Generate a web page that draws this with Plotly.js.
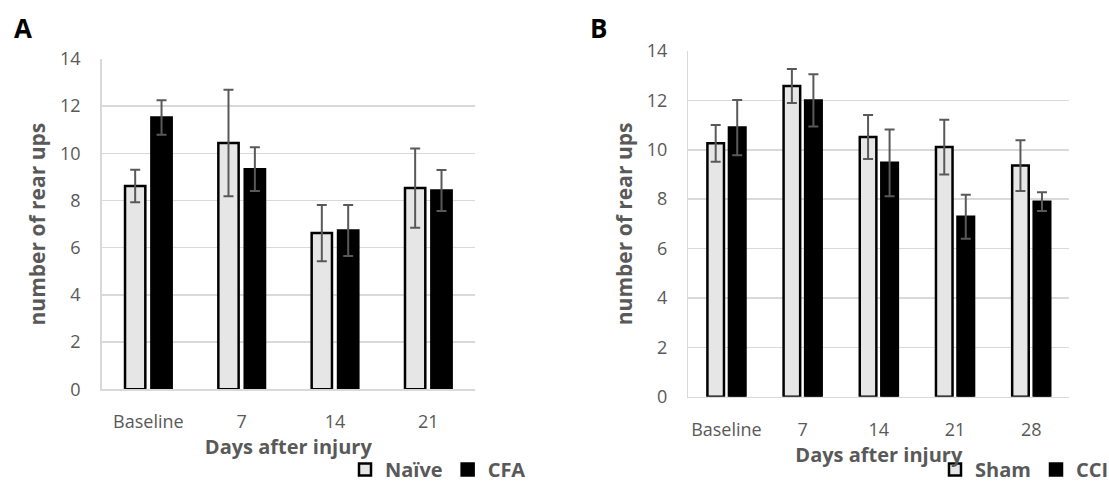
<!DOCTYPE html>
<html>
<head>
<meta charset="utf-8">
<script src="https://cdn.plot.ly/plotly-3.0.1.min.js"></script>
<style>html,body{margin:0;padding:0;background:#fff;}#chart{width:1109px;height:490px;}</style>
</head>
<body>
<div id="chart"></div>
<script>
// Panel A data
const categoriesA = ['Baseline', '7', '14', '21'];
const naive = [8.62, 10.44, 6.62, 8.53];
const naiveErr = [0.69, 2.26, 1.19, 1.68];
const cfa = [11.52, 9.33, 6.73, 8.43];
const cfaErr = [0.73, 0.93, 1.08, 0.87];

// Panel B data
const categoriesB = ['Baseline', '7', '14', '21', '28'];
const sham = [10.26, 12.58, 10.52, 10.11, 9.36];
const shamErr = [0.74, 0.69, 0.89, 1.11, 1.03];
const cci = [10.90, 12.00, 9.47, 7.29, 7.90];
const cciErr = [1.12, 1.06, 1.35, 0.89, 0.38];

const yTicks = [0, 2, 4, 6, 8, 10, 12, 14];

const FONT = 'Open Sans, Noto Sans, sans-serif';
const GRAY = '#595959';
const GRID = '#d9d9d9';
const LIGHT = '#e6e6e6';

function errBar(arr) {
  return {type: 'data', array: arr, visible: true, color: GRAY, thickness: 2, width: 5};
}

const traces = [
  {type: 'bar', name: 'Naïve', x: categoriesA, y: naive, error_y: errBar(naiveErr),
   marker: {color: LIGHT, line: {color: '#000', width: 2.5}}, xaxis: 'x', yaxis: 'y', legend: 'legend'},
  {type: 'bar', name: 'CFA', x: categoriesA, y: cfa, error_y: errBar(cfaErr),
   marker: {color: '#000', line: {color: '#000', width: 2.5}}, xaxis: 'x', yaxis: 'y', legend: 'legend'},
  {type: 'bar', name: 'Sham', x: categoriesB, y: sham, error_y: errBar(shamErr),
   marker: {color: LIGHT, line: {color: '#000', width: 2.5}}, xaxis: 'x2', yaxis: 'y2', legend: 'legend2'},
  {type: 'bar', name: 'CCI', x: categoriesB, y: cci, error_y: errBar(cciErr),
   marker: {color: '#000', line: {color: '#000', width: 2.5}}, xaxis: 'x2', yaxis: 'y2', legend: 'legend2'}
];

function xAxis(domain, anchor) {
  return {
    domain: domain, anchor: anchor, type: 'category',
    tickfont: {family: FONT, size: 18, color: GRAY},
    ticks: 'outside', ticklen: 16, tickcolor: 'rgba(0,0,0,0)',
    showline: true, linecolor: GRID, linewidth: 1.5, showgrid: false,
    title: {text: 'Days after injury', font: {family: FONT, size: 20, color: GRAY, weight: 'bold'}, standoff: 1},
    fixedrange: true
  };
}
function yAxis(domain, anchor) {
  return {
    domain: domain, anchor: anchor, range: [0, 14], tickvals: yTicks, ticktext: yTicks.map(String),
    tickfont: {family: FONT, size: 18, color: GRAY},
    ticks: 'outside', ticklen: 16, tickcolor: 'rgba(0,0,0,0)',
    showgrid: true, gridcolor: GRID, gridwidth: 1.5, zeroline: false,
    showline: true, linecolor: GRID, linewidth: 1.5,
    title: {text: 'number of rear ups', font: {family: FONT, size: 21, color: GRAY, weight: 'bold'}, standoff: 8},
    fixedrange: true
  };
}

const legendFont = {family: FONT, size: 20, color: GRAY, weight: 'bold'};

const layout = {
  width: 1109, height: 490,
  margin: {l: 0, r: 0, t: 0, b: 0, autoexpand: false},
  paper_bgcolor: '#fff', plot_bgcolor: '#fff',
  barmode: 'group', bargap: 0.435, bargroupgap: 0.23,
  showlegend: true,
  xaxis: xAxis([0.0917, 0.4283], 'y'),
  yaxis: yAxis([0.2055, 0.8796], 'x'),
  xaxis2: xAxis([0.6207, 0.9642], 'y2'),
  yaxis2: yAxis([0.1904, 0.8959], 'x2'),
  legend: {orientation: 'h', x: 345/1109, xanchor: 'left', y: 0.002, yanchor: 'bottom',
           font: legendFont, bgcolor: 'rgba(0,0,0,0)', borderwidth: 0},
  legend2: {orientation: 'h', x: 935/1109, xanchor: 'left', y: 0.002, yanchor: 'bottom',
            entrywidth: 56, entrywidthmode: 'pixels',
            font: legendFont, bgcolor: 'rgba(0,0,0,0)', borderwidth: 0},
  annotations: [
    {text: 'A', x: 12/1109, y: 1 - 28/490, xref: 'paper', yref: 'paper', xanchor: 'left', yanchor: 'middle',
     showarrow: false, font: {family: FONT, size: 26, color: '#000', weight: 'bold'}},
    {text: 'B', x: 588/1109, y: 1 - 28/490, xref: 'paper', yref: 'paper', xanchor: 'left', yanchor: 'middle',
     showarrow: false, font: {family: FONT, size: 26, color: '#000', weight: 'bold'}}
  ]
};

Plotly.newPlot('chart', traces, layout, {displayModeBar: false, staticPlot: true});
</script>
</body>
</html>
